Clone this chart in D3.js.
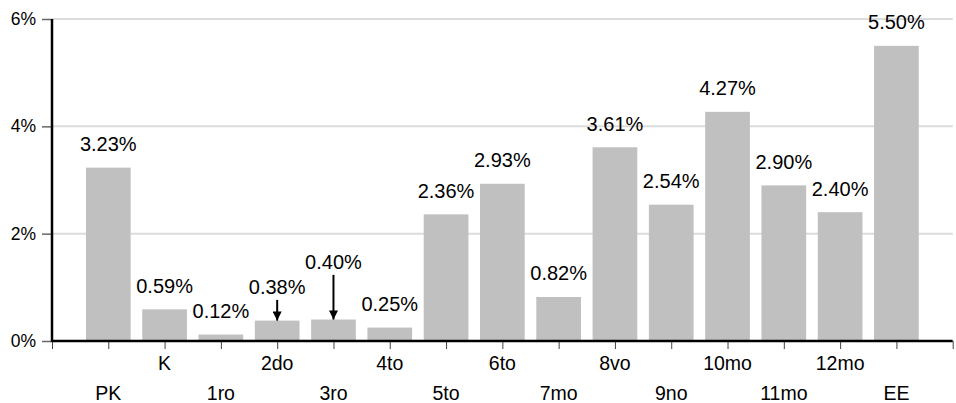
<!DOCTYPE html>
<html><head><meta charset="utf-8">
<script src="https://cdn.jsdelivr.net/npm/d3@7"></script>
<style>body{margin:0;background:#fff}svg{display:block;font-family:Arial,"Liberation Sans",sans-serif}</style>
</head><body>
<svg id="c" width="956" height="403"></svg>
<script>
const categories = ["PK","K","1ro","2do","3ro","4to","5to","6to","7mo","8vo","9no","10mo","11mo","12mo","EE"];
const values = [3.23,0.59,0.12,0.38,0.40,0.25,2.36,2.93,0.82,3.61,2.54,4.27,2.90,2.40,5.50];
const yTicks = [0,2,4,6];
const arrowCats = ["2do","3ro"];

const svg = d3.select("#c");
const mLeft = 52, mRight = 952.7, mTop = 19, mBottom = 341;
const slots = ["__start", ...categories, "__end"];
const x = d3.scalePoint().domain(slots).range([mLeft, mRight]);
const y = d3.scaleLinear().domain([0,6]).range([mBottom, mTop]);
const step = x.step(), bw = step*0.794;
const fsVal = 20, fsX = 19.5, fsY = 17.5;

// gridlines
svg.append("g").selectAll("line").data(yTicks.filter(d=>d>0)).join("line")
  .attr("x1", mLeft).attr("x2", mRight).attr("y1", d=>y(d)).attr("y2", d=>y(d))
  .attr("stroke", "#dcdcdc").attr("stroke-width", 2);

// bars
svg.append("g").selectAll("rect").data(categories).join("rect")
  .attr("x", (d)=>x(d)-bw/2).attr("width", bw)
  .attr("y", (d,i)=>y(values[i])).attr("height", (d,i)=>y(0)-y(values[i]))
  .attr("fill", "#c0c0c0");

// y axis
const ya = svg.append("g").attr("transform", `translate(${mLeft},0)`)
  .call(d3.axisLeft(y).tickValues(yTicks).tickFormat(d=>d+"%").tickSize(10).tickPadding(6));
ya.select(".domain").remove();
ya.selectAll(".tick line").attr("stroke", "#666").attr("stroke-width", 1.5);
ya.selectAll("text").attr("font-size", fsY).attr("fill", "#000").attr("font-family", "Arial, 'Liberation Sans', sans-serif");

// x axis
const xa = svg.append("g").attr("transform", `translate(0,${mBottom})`)
  .call(d3.axisBottom(x).tickSize(8).tickFormat(""));
xa.select(".domain").remove();
xa.selectAll(".tick line").attr("stroke", "#444").attr("stroke-width", 1);

// x labels staggered
svg.append("g").selectAll("text").data(categories).join("text")
  .attr("x", d=>x(d)).attr("y", (d,i)=> i%2===0 ? 400 : 370)
  .attr("text-anchor","middle").attr("font-size", fsX).attr("fill","#000").text(d=>d);

// axis lines
svg.append("line").attr("x1", mLeft).attr("x2", mLeft).attr("y1", mTop).attr("y2", mBottom+1)
  .attr("stroke","#000").attr("stroke-width",2.5);
svg.append("line").attr("x1", mLeft).attr("x2", mRight).attr("y1", mBottom).attr("y2", mBottom)
  .attr("stroke","#000").attr("stroke-width",2.5);

// arrow marker
svg.append("defs").append("marker").attr("id","ah").attr("viewBox","0 0 10 10")
  .attr("markerUnits","userSpaceOnUse")
  .attr("refX",10).attr("refY",5).attr("markerWidth",10).attr("markerHeight",9).attr("orient","auto")
  .append("path").attr("d","M0,0L10,5L0,10Z").attr("fill","#000");

// value labels
const raise = {"2do": 10, "3ro": 34};
const lab = svg.append("g");
categories.forEach((c,i)=>{
  const yt = y(values[i]);
  const off = raise[c] || 0;
  const base = yt - 16.7 - off;
  lab.append("text").attr("x", x(c)).attr("y", base)
    .attr("text-anchor","middle").attr("font-size", fsVal).attr("fill","#000")
    .text(values[i].toFixed(2)+"%");
  if (arrowCats.includes(c)) {
    lab.append("line").attr("x1", x(c)).attr("x2", x(c))
      .attr("y1", base + 6).attr("y2", yt)
      .attr("stroke","#000").attr("stroke-width",2).attr("marker-end","url(#ah)");
  }
});
</script>
</body></html>
